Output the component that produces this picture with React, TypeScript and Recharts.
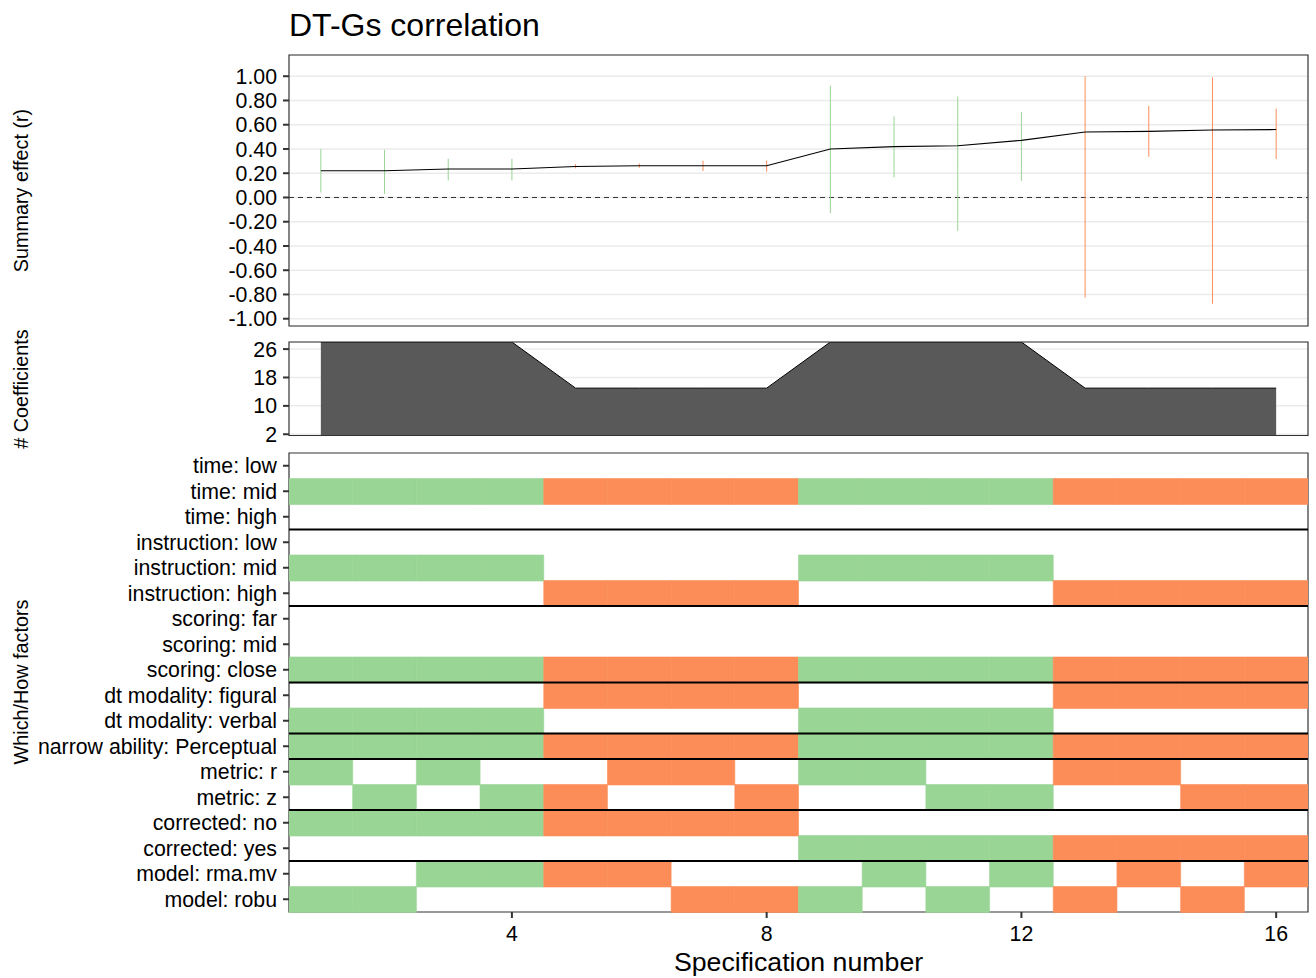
import React from 'react';
import {
  ComposedChart,
  Line,
  Scatter,
  ErrorBar,
  Area,
  Bar,
  Cell,
  XAxis,
  YAxis,
  CartesianGrid,
  ReferenceLine,
  ReferenceArea,
} from 'recharts';

const FONT = '"Liberation Sans", Arial, Helvetica, sans-serif';
const GREEN = '#99d594';
const ORANGE = '#fc8d59';
const BORDER = '#333333';
const GRID = '#ebebeb';

// specification number on the shared x axis
const specs = [1, 2, 3, 4, 5, 6, 7, 8, 9, 10, 11, 12, 13, 14, 15, 16];

// summary effect (r) with lower / upper confidence bounds
const effect = [0.22, 0.22, 0.235, 0.235, 0.256, 0.262, 0.262, 0.262, 0.4, 0.419, 0.427, 0.471, 0.54, 0.545, 0.557, 0.56];
const ciLower = [0.04, 0.03, 0.14, 0.14, 0.24, 0.245, 0.218, 0.212, -0.129, 0.165, -0.275, 0.136, -0.826, 0.336, -0.876, 0.317];
const ciUpper = [0.4, 0.394, 0.32, 0.32, 0.276, 0.28, 0.303, 0.305, 0.923, 0.669, 0.832, 0.706, 1.0, 0.755, 0.99, 0.733];
const effectTicks = [-1, -0.8, -0.6, -0.4, -0.2, 0, 0.2, 0.4, 0.6, 0.8, 1];

// number of coefficients behind each specification
const coefCount = [28, 28, 28, 28, 15, 15, 15, 15, 28, 28, 28, 28, 15, 15, 15, 15];
const coefTicks = [2, 10, 18, 26];

// level of every factor picked by each specification
const timeLevel = ['mid', 'mid', 'mid', 'mid', 'mid', 'mid', 'mid', 'mid', 'mid', 'mid', 'mid', 'mid', 'mid', 'mid', 'mid', 'mid'];
const instructionLevel = ['mid', 'mid', 'mid', 'mid', 'high', 'high', 'high', 'high', 'mid', 'mid', 'mid', 'mid', 'high', 'high', 'high', 'high'];
const scoringLevel = ['close', 'close', 'close', 'close', 'close', 'close', 'close', 'close', 'close', 'close', 'close', 'close', 'close', 'close', 'close', 'close'];
const modalityLevel = ['verbal', 'verbal', 'verbal', 'verbal', 'figural', 'figural', 'figural', 'figural', 'verbal', 'verbal', 'verbal', 'verbal', 'figural', 'figural', 'figural', 'figural'];
const abilityLevel = ['Perceptual', 'Perceptual', 'Perceptual', 'Perceptual', 'Perceptual', 'Perceptual', 'Perceptual', 'Perceptual', 'Perceptual', 'Perceptual', 'Perceptual', 'Perceptual', 'Perceptual', 'Perceptual', 'Perceptual', 'Perceptual'];
const metricLevel = ['r', 'z', 'r', 'z', 'z', 'r', 'r', 'z', 'r', 'r', 'z', 'z', 'r', 'r', 'z', 'z'];
const correctedLevel = ['no', 'no', 'no', 'no', 'no', 'no', 'no', 'no', 'yes', 'yes', 'yes', 'yes', 'yes', 'yes', 'yes', 'yes'];
const modelLevel = ['robu', 'robu', 'rma.mv', 'rma.mv', 'rma.mv', 'rma.mv', 'robu', 'robu', 'robu', 'rma.mv', 'robu', 'rma.mv', 'robu', 'rma.mv', 'robu', 'rma.mv'];

const factors = [
  { name: 'time', levels: ['low', 'mid', 'high'], chosen: timeLevel },
  { name: 'instruction', levels: ['low', 'mid', 'high'], chosen: instructionLevel },
  { name: 'scoring', levels: ['far', 'mid', 'close'], chosen: scoringLevel },
  { name: 'dt modality', levels: ['figural', 'verbal'], chosen: modalityLevel },
  { name: 'narrow ability', levels: ['Perceptual'], chosen: abilityLevel },
  { name: 'metric', levels: ['r', 'z'], chosen: metricLevel },
  { name: 'corrected', levels: ['no', 'yes'], chosen: correctedLevel },
  { name: 'model', levels: ['rma.mv', 'robu'], chosen: modelLevel },
];

const specColor = (i: number) => (modalityLevel[i] === 'verbal' ? GREEN : ORANGE);

const summaryData = specs.map((s, i) => ({
  spec: s,
  effect: effect[i],
  err: [effect[i] - ciLower[i], ciUpper[i] - effect[i]],
  color: specColor(i),
}));
const greenPoints = summaryData.filter((d) => d.color === GREEN);
const orangePoints = summaryData.filter((d) => d.color === ORANGE);

const coefData = specs.map((s, i) => ({ spec: s, coef: coefCount[i] }));

const rows = factors.flatMap((f) =>
  f.levels.map((level) => ({ label: `${f.name}: ${level}`, level, chosen: f.chosen }))
);
const groupStarts = factors.slice(1).map((f) => `${f.name}: ${f.levels[0]}`);

// each tile is one spec unit wide, stacked after a half-unit offset
const tileData = rows.map((r) => {
  const o: Record<string, any> = { row: r.label, pad: 0.5 };
  specs.forEach((s) => {
    o[`s${s}`] = 1;
  });
  return o;
});

const X_DOMAIN: [number, number] = [0.5, 16.5];
const EFFECT_DOMAIN: [number, number] = [-1.06, 1.175];
const COEF_DOMAIN: [number, number] = [1.65, 28];

// y axes are 280px wide so the long factor labels fit on one line
const AXIS_W = 280;
const LEFT = 289 - AXIS_W;

const tickText = { fill: '#000', fontSize: 21.3, fontFamily: FONT };
const tickLine = { stroke: BORDER, strokeWidth: 2 };
const yAxisProps = {
  width: AXIS_W,
  tickSize: 6,
  tickMargin: 6,
  axisLine: false,
  tickLine,
  tick: tickText,
  interval: 0 as const,
};

const noDot = () => <g />;

export default function App() {
  return (
    <div style={{ position: 'absolute', left: 0, top: 0, width: 1316, height: 978, background: '#fff' }}>
      <div style={{ position: 'absolute', left: 0, top: 0 }}>
        <ComposedChart width={1316} height={340} data={summaryData} margin={{ top: 55, right: 8, bottom: 14, left: LEFT }}>
          <CartesianGrid vertical={false} stroke={GRID} strokeWidth={1.5} />
          <XAxis type="number" dataKey="spec" domain={X_DOMAIN} allowDataOverflow hide />
          <YAxis
            type="number"
            domain={EFFECT_DOMAIN}
            allowDataOverflow
            ticks={effectTicks}
            tickFormatter={(v: number) => v.toFixed(2)}
            {...yAxisProps}
          />
          <ReferenceLine y={0} stroke="#333" strokeDasharray="5 4" strokeWidth={1} />
          <Scatter data={greenPoints} dataKey="effect" shape={noDot} isAnimationActive={false}>
            <ErrorBar dataKey="err" direction="y" width={0} stroke={GREEN} strokeWidth={1} isAnimationActive={false} />
          </Scatter>
          <Scatter data={orangePoints} dataKey="effect" shape={noDot} isAnimationActive={false}>
            <ErrorBar dataKey="err" direction="y" width={0} stroke={ORANGE} strokeWidth={1} isAnimationActive={false} />
          </Scatter>
          <Line dataKey="effect" type="linear" stroke="#000" strokeWidth={1.1} dot={false} isAnimationActive={false} />
          <ReferenceArea
            x1={X_DOMAIN[0]}
            x2={X_DOMAIN[1]}
            y1={EFFECT_DOMAIN[0]}
            y2={EFFECT_DOMAIN[1]}
            fill="none"
            stroke={BORDER}
            strokeWidth={1.2}
            ifOverflow="visible"
          />
        </ComposedChart>
      </div>

      <div style={{ position: 'absolute', left: 0, top: 330 }}>
        <ComposedChart width={1316} height={120} data={coefData} margin={{ top: 12, right: 8, bottom: 14.5, left: LEFT }}>
          <CartesianGrid vertical={false} stroke={GRID} strokeWidth={1.5} />
          <XAxis type="number" dataKey="spec" domain={X_DOMAIN} allowDataOverflow hide />
          <YAxis type="number" domain={COEF_DOMAIN} allowDataOverflow ticks={coefTicks} {...yAxisProps} />
          <Area
            type="linear"
            dataKey="coef"
            fill="#595959"
            fillOpacity={1}
            stroke="#000"
            strokeWidth={1}
            isAnimationActive={false}
          />
          <ReferenceArea
            x1={X_DOMAIN[0]}
            x2={X_DOMAIN[1]}
            y1={COEF_DOMAIN[0]}
            y2={COEF_DOMAIN[1]}
            fill="none"
            stroke={BORDER}
            strokeWidth={1.2}
            ifOverflow="visible"
          />
        </ComposedChart>
      </div>

      <div style={{ position: 'absolute', left: 0, top: 445 }}>
        <ComposedChart
          layout="vertical"
          width={1316}
          height={533}
          data={tileData}
          margin={{ top: 8, right: 8, bottom: 36, left: LEFT }}
          barCategoryGap={0}
          barGap={0}
        >
          <XAxis
            type="number"
            domain={X_DOMAIN}
            allowDataOverflow
            ticks={[4, 8, 12, 16]}
            height={30}
            tickSize={6}
            tickMargin={8}
            axisLine={false}
            tickLine={tickLine}
            tick={tickText}
            interval={0}
          />
          <YAxis type="category" dataKey="row" {...yAxisProps} />
          <Bar dataKey="pad" stackId="t" fill="transparent" isAnimationActive={false} />
          {specs.map((s, i) => (
            <Bar key={s} dataKey={`s${s}`} stackId="t" isAnimationActive={false}>
              {rows.map((r) => {
                const on = r.chosen[i] === r.level;
                const c = on ? specColor(i) : 'transparent';
                return <Cell key={r.label} fill={c} stroke={on ? c : 'none'} strokeWidth={0.6} />;
              })}
            </Bar>
          ))}
          {groupStarts.map((g) => (
            <ReferenceLine key={g} y={g} position="start" stroke="#000" strokeWidth={2} />
          ))}
          <ReferenceArea
            x1={X_DOMAIN[0]}
            x2={X_DOMAIN[1]}
            y1={rows[0].label}
            y2={rows[rows.length - 1].label}
            fill="none"
            stroke={BORDER}
            strokeWidth={1.2}
            ifOverflow="visible"
          />
        </ComposedChart>
      </div>

      <svg
        width={1316}
        height={978}
        style={{ position: 'absolute', left: 0, top: 0, pointerEvents: 'none' }}
        fontFamily={FONT}
      >
        <text x={289} y={36} fontSize={32} fill="#000">
          DT-Gs correlation
        </text>
        <text x={798.5} y={971} fontSize={26.7} fill="#000" textAnchor="middle">
          Specification number
        </text>
        <text transform="translate(28,190.5) rotate(-90)" fontSize={19.8} fill="#000" textAnchor="middle">
          Summary effect (r)
        </text>
        <text transform="translate(28,389) rotate(-90)" fontSize={19.8} fill="#000" textAnchor="middle">
          # Coefficients
        </text>
        <text transform="translate(28,682) rotate(-90)" fontSize={19.8} fill="#000" textAnchor="middle">
          Which/How factors
        </text>
      </svg>
    </div>
  );
}
